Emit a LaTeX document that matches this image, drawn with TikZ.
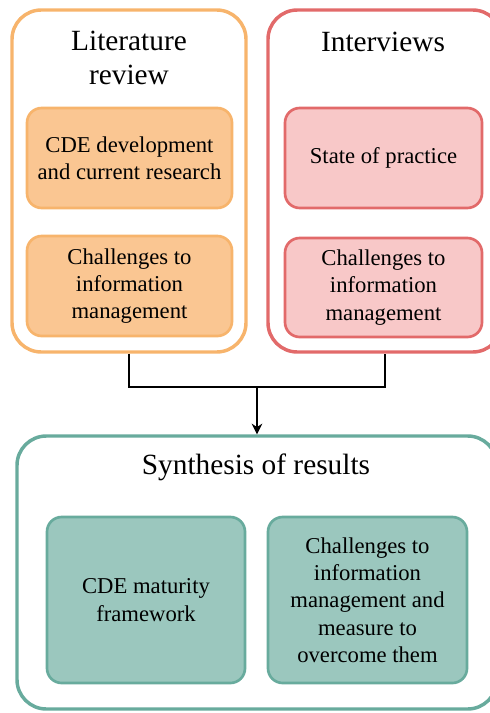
\documentclass[tikz,border=0pt]{standalone}
\usepackage{fontspec}
\setmainfont{Liberation Serif}
\usetikzlibrary{arrows.meta}

\definecolor{litline}{RGB}{247,180,108}
\definecolor{litfill}{RGB}{250,198,146}
\definecolor{intline}{RGB}{226,106,106}
\definecolor{intfill}{RGB}{248,200,200}
\definecolor{synline}{RGB}{104,171,157}
\definecolor{synfill}{RGB}{155,199,190}

\begin{document}
\begin{tikzpicture}[x=0.75pt,y=0.75pt,yscale=-1,xscale=1,
  groupbox/.style={draw=#1, line width=2.6pt, rounded corners=22pt, inner sep=0pt},
  subbox/.style 2 args={draw=#1, fill=#2, line width=2pt, rounded corners=11pt, inner sep=0pt, align=center, font=\fontsize{17}{20.5}\selectfont},
  headtext/.style={align=center, font=\fontsize{22}{25.5}\selectfont}]
\useasboundingbox (0,0) rectangle (489,713);

%Rounded Rect: literature review
\node [groupbox=litline, minimum width=175.5pt, minimum height=256.5pt] (lit) at (129,181) {};
%Rounded Rect: interviews
\node [groupbox=intline, minimum width=175.5pt, minimum height=256.5pt] (int) at (385,181) {};
%Rounded Rect: synthesis
\node [groupbox=synline, minimum width=360pt, minimum height=204.75pt] (syn) at (257,572.5) {};

% Text Node
\node [headtext] (littitle) at (129,58) {Literature\\review};
% Text Node
\node [headtext] (inttitle) at (383,42) {Interviews};
% Text Node
\node [headtext] (syntitle) at (256,467) {Synthesis of results};

% inner boxes
\node [subbox={litline}{litfill}, minimum width=153.75pt, minimum height=75pt] (litdev) at (129.5,158) {CDE development\\and current research};
\node [subbox={litline}{litfill}, minimum width=153.75pt, minimum height=75pt] (litchal) at (129.5,286) {Challenges to\\information\\management};
\node [subbox={intline}{intfill}, minimum width=147.75pt, minimum height=75pt] (intstate) at (383.5,158) {State of practice};
\node [subbox={intline}{intfill}, minimum width=147.75pt, minimum height=74.25pt] (intchal) at (383.5,287.5) {Challenges to\\information\\management};
\node [subbox={synline}{synfill}, minimum width=148.5pt, minimum height=124.5pt] (synmat) at (146,600) {CDE maturity\\framework};
\node [subbox={synline}{synfill}, minimum width=149.25pt, minimum height=124.5pt] (synchal) at (367.5,600) {Challenges to\\information\\management and\\measure to\\overcome them};

% connectors
\coordinate (join) at (257,387);
\draw [line width=1pt] (lit.south) |- (join) -| (int.south);
\draw [line width=1pt, -{Stealth[length=8pt,width=8pt]}] (join) -- (join |- syn.north);

\end{tikzpicture}
\end{document}
